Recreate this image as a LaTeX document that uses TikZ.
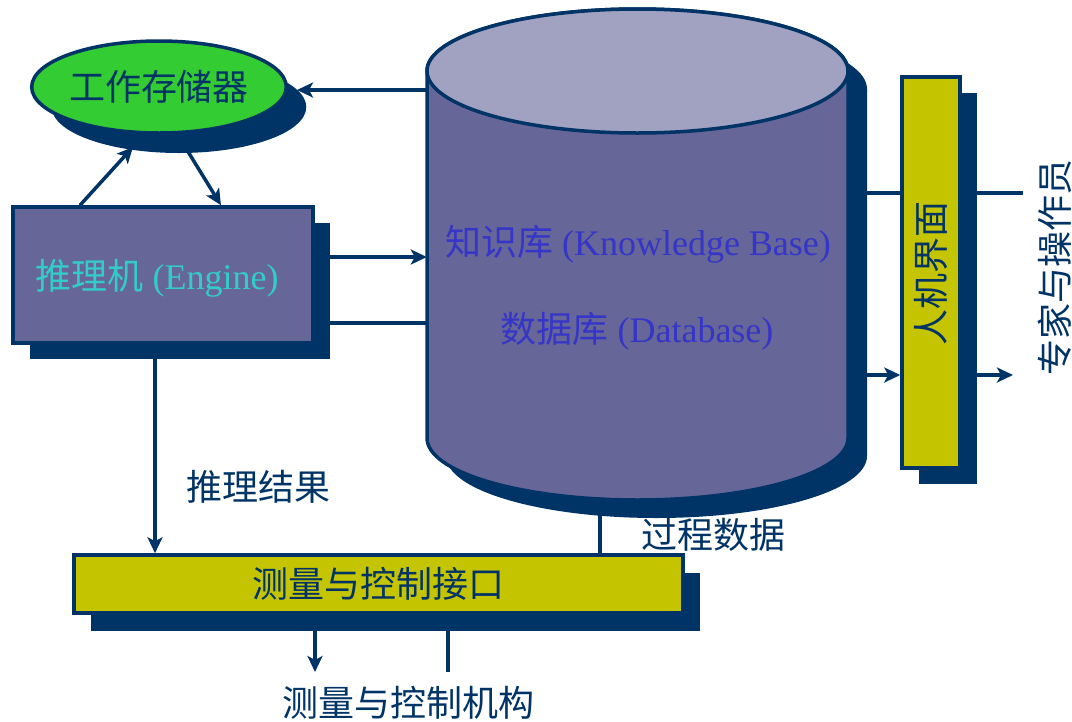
\documentclass[tikz,border=0pt]{standalone}
\usepackage{fontspec}
\setmainfont{Liberation Serif}
\newfontfamily\cjk{Noto Sans CJK SC}
\usetikzlibrary{arrows.meta,shadows,backgrounds,shapes.geometric}
\definecolor{navy}{HTML}{003366}
\definecolor{cylbody}{HTML}{666699}
\definecolor{cyltop}{HTML}{A1A1C1}
\definecolor{wmgreen}{HTML}{33CC33}
\definecolor{ifyellow}{HTML}{C4C400}
\definecolor{engtext}{HTML}{33CCCC}
\definecolor{kbtext}{HTML}{3535C8}
\tikzset{
  big/.style={font=\fontsize{36}{42}\selectfont},
  conn/.style={draw=navy, line width=3.5pt},
  arr/.style={conn, -{Stealth[length=16pt,width=15pt,inset=4pt]}},
  shadowed/.style 2 args={general shadow={fill=navy, shadow xshift=#1, shadow yshift=#2}},
  panel/.style={draw=navy, line width=3.5pt, inner sep=0pt, big},
}
\begin{document}
\begin{tikzpicture}[x=1pt, y=-1pt]
\useasboundingbox (0,0) rectangle (1072,721);

% ---- knowledge base cylinder (shadow, body, top) ----
\fill[navy] (446,89) -- (446,456)
  arc[start angle=180,end angle=360,x radius=210.5pt,y radius=62pt]
  -- (867,89)
  arc[start angle=0,end angle=180,x radius=210.5pt,y radius=62pt] -- cycle;
\draw[navy, line width=3.5pt, fill=cylbody] (427,71) -- (427,438)
  arc[start angle=180,end angle=360,x radius=210.5pt,y radius=62pt]
  -- (848,71)
  arc[start angle=0,end angle=180,x radius=210.5pt,y radius=62pt] -- cycle;
\draw[navy, line width=3.5pt, fill=cyltop] (637.5,71) ellipse[x radius=210.5pt, y radius=62pt];
\node[inner sep=0pt, minimum width=421pt, minimum height=367pt] (kb) at (637.5,254.5) {};
\node[big, text=kbtext] (kbl1) at (638,244) {{\cjk 知识库} (Knowledge Base)};
\node[big, text=kbtext] (kbl2) at (637,331) {{\cjk 数据库} (Database)};

% ---- working memory ----
\node[panel, ellipse, fill=wmgreen, minimum width=248pt, minimum height=92pt,
      shadowed={20pt}{-20pt}, text=navy] (wm) at (159,87) {\cjk 工作存储器};

% ---- inference engine ----
\node[panel, rectangle, fill=cylbody, minimum width=300pt, minimum height=136pt,
      shadowed={17pt}{-16pt}] (eng) at (163,275) {};
\node[big, text=engtext] (engl) at (157,278) {{\cjk 推理机} (Engine)};

% ---- measurement & control interface ----
\node[panel, rectangle, fill=ifyellow, minimum width=609pt, minimum height=58pt,
      shadowed={17pt}{-18pt}, text=navy] (io) at (378.5,584) {\cjk 测量与控制接口};

% ---- human-machine interface ----
\node[panel, rectangle, fill=ifyellow, minimum width=58pt, minimum height=391pt,
      shadowed={17pt}{-16pt}] (hmi) at (931,272.5) {};
\node[big, text=navy, rotate=90] (hmil) at (931,273) {\cjk 人机界面};

% ---- labels ----
\node[big, text=navy] (lres) at (258,487) {\cjk 推理结果};
\node[big, text=navy] (lproc) at (713,535) {\cjk 过程数据};
\node[big, text=navy] (lact) at (408,703) {\cjk 测量与控制机构};
\node[big, text=navy, rotate=90] (lexp) at (1055,267) {\cjk 专家与操作员};
\coordinate (expin) at (1023,193);
\coordinate (expout) at (1013,375);
\coordinate (actout) at (315,672);
\coordinate (actin) at (448,672);

% ---- connectors (behind boxes and shadows) ----
\begin{scope}[on background layer]
  \draw[arr] (kb.west |- 0,90) -- (297,90);
  \draw[arr] (eng.north -| 80,0) -- (133,147);
  \draw[arr] (187,150) -- (eng.north -| 221,0);
  \draw[arr] (eng.east |- 0,257) -- (kb.west |- 0,257);
  \draw[conn] (eng.east |- 0,323) -- (kb.west |- 0,323);
  \draw[arr] (eng.south -| 155,0) -- (io.north -| 155,0);
  \draw[conn] (kb.south -| 600,0) -- (io.north -| 600,0);
  \draw[arr] (io.south -| actout) -- (actout);
  \draw[conn] (io.south -| actin) -- (actin);
  \draw[conn] (kb.east |- expin) -- (expin);
  \draw[arr] (kb.east |- expout) -- (hmi.west |- expout);
  \draw[arr] (hmi.east |- expout) -- (expout);
\end{scope}
\end{tikzpicture}
\end{document}
